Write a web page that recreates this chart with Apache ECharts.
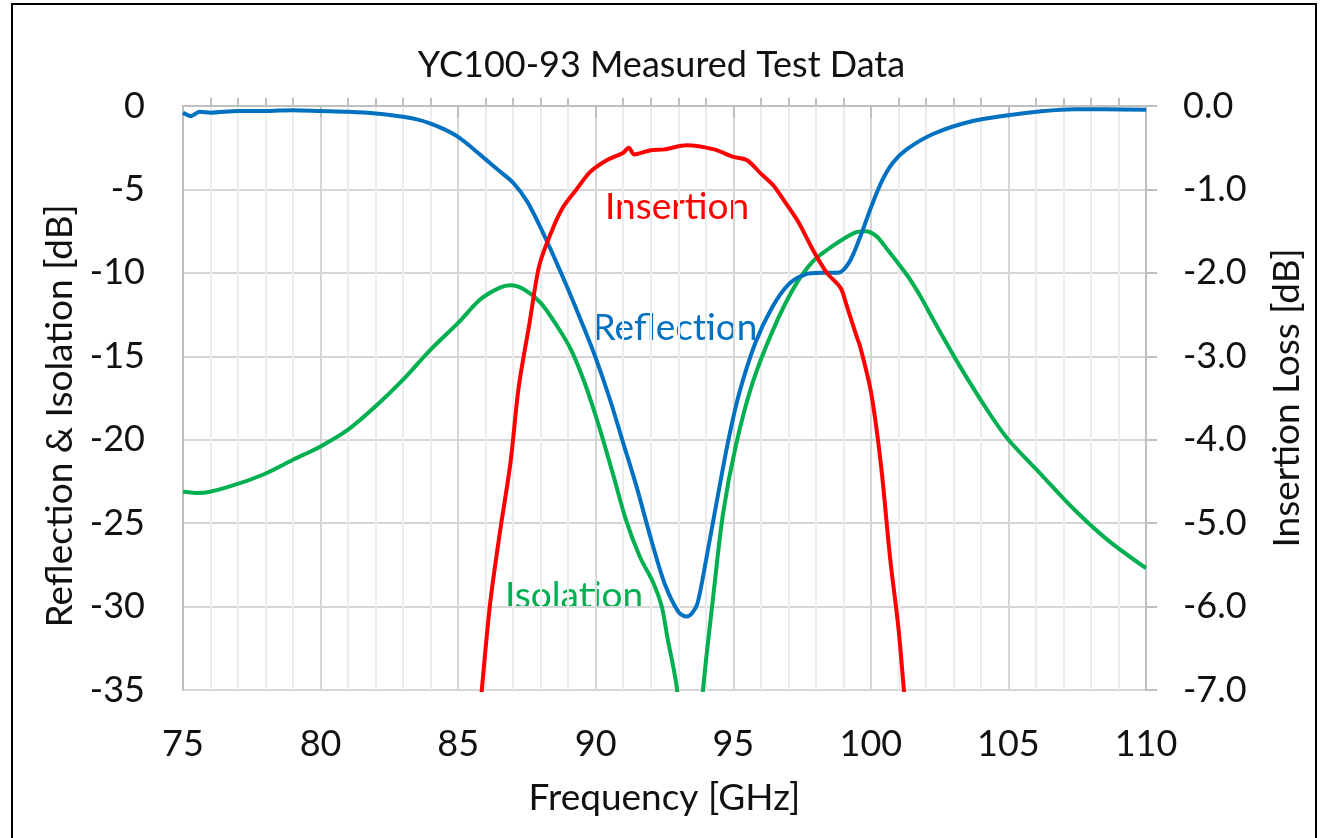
<!DOCTYPE html>
<html>
<head>
<meta charset="utf-8">
<script src="https://cdn.jsdelivr.net/npm/echarts@6/dist/echarts.min.js"></script>
<style>
  html, body { margin: 0; padding: 0; background: #fff; }
  #chart_box { width: 1323px; height: 838px; }
</style>
</head>
<body>
<div id="chart_box"></div>
<script>
// frequency [GHz] / level [dB]
var reflFreq = [75, 75.3, 75.6, 76, 77, 78, 79, 80, 81, 82, 83, 83.5, 84, 84.5, 85, 85.5, 86, 86.5, 87, 87.5,
  88, 88.5, 89, 89.5, 90, 90.5, 91, 91.5, 92, 92.5, 93, 93.3, 93.5, 93.7, 94, 94.4, 94.8, 95.2, 95.8, 96.4,
  97, 97.6, 98.2, 98.8, 99.2, 99.6, 100, 100.4, 100.8, 101.3, 102.3, 103.7, 105, 106.2, 107.4, 108.5, 110]
var reflDb = [-0.4, -0.6, -0.35, -0.4, -0.3, -0.3, -0.25, -0.3, -0.35, -0.45, -0.65, -0.8, -1.05, -1.4, -1.85, -2.5, -3.2, -3.9, -4.6, -5.7,
  -7.3, -9.1, -11.0, -13.0, -15.1, -17.5, -20.2, -22.9, -25.9, -28.6, -30.3, -30.6, -30.4, -29.8, -27.3, -23.7, -20.2, -17.3, -14.2, -12.1,
  -10.7, -10.1, -10.0, -10.0, -9.4, -7.9, -6.1, -4.5, -3.4, -2.6, -1.65, -0.9, -0.55, -0.32, -0.2, -0.2, -0.22]

var isoFreq = [75, 75.6, 76.7, 77.9, 79, 80, 81, 82, 83, 84, 85, 85.8, 86.5, 86.9, 87.4, 88, 88.6, 89.1, 89.6, 90.1,
  90.6, 91.1, 91.6, 92.1, 92.4, 92.6, 92.95, 93.2, 93.45, 93.7, 93.9, 94.27, 94.63, 95.1, 95.7, 96.45, 97.2, 97.9, 98.6, 99.4,
  99.8, 100.2, 100.6, 101.3, 101.8, 102.3, 103.2, 104.3, 105, 106.2, 107.4, 108.6, 110]
var isoDb = [-23.1, -23.2, -22.8, -22.1, -21.2, -20.4, -19.4, -18.0, -16.4, -14.6, -13.0, -11.6, -10.9, -10.75, -11.0, -11.8, -13.2, -14.6, -16.6, -19.1,
  -21.9, -24.8, -27.0, -28.6, -30.0, -31.8, -34.9, -40, -45, -40, -35, -29.4, -24.4, -20.3, -16.6, -13.4, -10.9, -9.3, -8.4, -7.6,
  -7.5, -7.8, -8.6, -10.1, -11.4, -12.9, -15.5, -18.4, -20.0, -22.1, -24.2, -26.0, -27.7]

var insFreq = [85.6, 85.86, 86.16, 86.5, 86.9, 87.2, 87.6, 87.95, 88.4, 88.8, 89.3, 89.8, 90.4, 91.0, 91.2, 91.4, 92.0, 92.5, 93.3, 94.3,
  95.0, 95.5, 96.0, 96.45, 96.94, 97.4, 97.9, 98.4, 98.9, 99.1, 99.5, 99.6, 100.0, 100.36, 100.7, 101.0, 101.2, 101.45]
var insDb = [-8.0, -7.0, -5.97, -5.15, -4.28, -3.37, -2.59, -1.91, -1.5, -1.22, -1.0, -0.79, -0.65, -0.56, -0.5, -0.58, -0.53, -0.52, -0.47, -0.52,
  -0.61, -0.65, -0.81, -0.95, -1.18, -1.41, -1.73, -2.0, -2.18, -2.37, -2.78, -2.87, -3.42, -4.28, -5.42, -6.25, -7.0, -8.0]

var leftTicks = [0, -5, -10, -15, -20, -25, -30, -35]
var rightTicks = ['0.0', '-1.0', '-2.0', '-3.0', '-4.0', '-5.0', '-6.0', '-7.0']

function pairs(xs, ys) {
  return xs.map(function(x, i) { return [x, ys[i]] })
}

var font = 'Lato, "Open Sans", sans-serif'
var gridGray = '#d6d6d6'
var chartDom = document.getElementById('chart_box')
var myChart = echarts.init(chartDom)
var option = {
  backgroundColor: '#fff',
  animation: false,
  title: {
    text: 'YC100-93 Measured Test Data',
    left: 'center',
    top: 42,
    textStyle: { fontFamily: font, fontSize: 36, fontWeight: 'normal', color: '#111' }
  },
  grid: { left: 183, right: 177, top: 106, bottom: 148 },
  xAxis: {
    type: 'value',
    min: 75,
    max: 110,
    interval: 5,
    name: 'Frequency [GHz]',
    nameLocation: 'middle',
    nameGap: 90,
    nameTextStyle: { fontFamily: font, fontSize: 37, color: '#111' },
    axisLine: { show: true, lineStyle: { color: '#bfbfbf', width: 2 } },
    axisTick: { show: true, inside: false, length: 12, lineStyle: { color: '#bfbfbf', width: 2 } },
    minorTick: { show: true, splitNumber: 5, length: -8, lineStyle: { color: '#bfbfbf', width: 2 } },
    axisLabel: { margin: 36, fontFamily: font, fontSize: 36, color: '#111' },
    splitLine: { show: true, lineStyle: { color: gridGray, width: 2 } },
    minorSplitLine: { show: true, lineStyle: { color: '#ececec', width: 2 } }
  },
  yAxis: [
    {
      type: 'value',
      min: -35,
      max: 0,
      interval: 5,
      name: 'Reflection & Isolation [dB]',
      nameLocation: 'middle',
      nameGap: 102,
      nameRotate: 90,
      nameTextStyle: { fontFamily: font, fontSize: 37, color: '#111', padding: [0, 36, 0, 0] },
      axisLine: { show: true, lineStyle: { color: '#bfbfbf', width: 2 } },
      axisTick: { show: false },
      axisLabel: {
        margin: 38, fontFamily: font, fontSize: 36, color: '#111',
        formatter: function(v) { return leftTicks[Math.round(-v / 5)] }
      },
      splitLine: { show: true, lineStyle: { color: gridGray, width: 2 } }
    },
    {
      type: 'value',
      min: -7,
      max: 0,
      interval: 1,
      position: 'right',
      name: 'Insertion Loss [dB]',
      nameLocation: 'middle',
      nameGap: 123,
      nameRotate: 90,
      nameTextStyle: { fontFamily: font, fontSize: 37, color: '#111' },
      axisLine: { show: true, lineStyle: { color: '#bfbfbf', width: 2 } },
      axisTick: { show: true, inside: false, length: 11, lineStyle: { color: '#bfbfbf', width: 2 } },
      axisLabel: {
        margin: 37, fontFamily: font, fontSize: 36, color: '#111',
        formatter: function(v) { return rightTicks[Math.round(-v)] }
      },
      splitLine: { show: false }
    }
  ],
  graphic: [
    {
      type: 'rect',
      shape: { x: 12, y: 4, width: 1304, height: 860 },
      style: { fill: 'none', stroke: '#000', lineWidth: 2 },
      silent: true
    },
    {
      type: 'text', x: 677, y: 207,
      style: { text: 'Insertion', fill: '#ff0000', font: '37px ' + font, align: 'center', verticalAlign: 'middle' }
    },
    {
      type: 'text', x: 675, y: 328,
      style: { text: 'Reflection', fill: '#0070c0', font: '37px ' + font, align: 'center', verticalAlign: 'middle' }
    },
    {
      type: 'text', x: 574, y: 596,
      style: { text: 'Isolation', fill: '#00b050', font: '37px ' + font, align: 'center', verticalAlign: 'middle' }
    }
  ],
  series: [
    {
      name: 'Isolation',
      type: 'line',
      yAxisIndex: 0,
      showSymbol: false,
      smooth: 0.3,
      clip: true,
      lineStyle: { color: '#00b050', width: 4 },
      data: pairs(isoFreq, isoDb)
    },
    {
      name: 'Reflection',
      type: 'line',
      yAxisIndex: 0,
      showSymbol: false,
      smooth: 0.3,
      clip: true,
      lineStyle: { color: '#0070c0', width: 4 },
      data: pairs(reflFreq, reflDb)
    },
    {
      name: 'Insertion',
      type: 'line',
      yAxisIndex: 1,
      showSymbol: false,
      smooth: 0.3,
      clip: true,
      lineStyle: { color: '#ff0000', width: 4 },
      data: pairs(insFreq, insDb)
    }
  ]
}
option && myChart.setOption(option)
</script>
</body>
</html>
